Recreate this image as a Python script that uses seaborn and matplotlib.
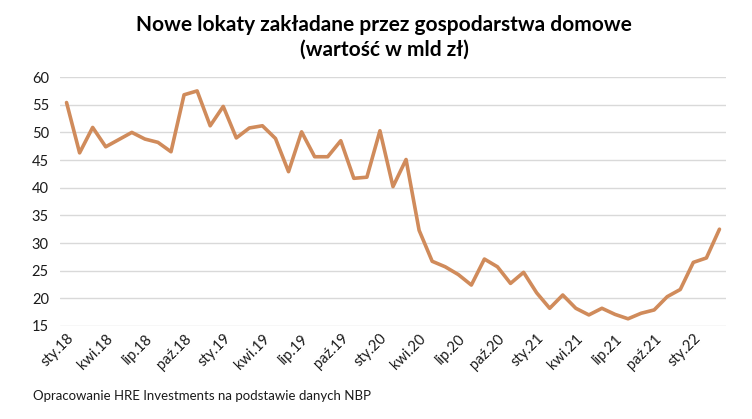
import pandas as pd
import numpy as np
import matplotlib
matplotlib.use("Agg")
import matplotlib.pyplot as plt
import seaborn as sns

# Monthly new household deposits (bn PLN), Jan 2018 - Mar 2022
values = [55.4, 46.3, 50.9, 47.4, 48.7, 50.0, 48.8, 48.2, 46.5, 56.8,
          57.5, 51.2, 54.7, 49.0, 50.8, 51.2, 48.9, 42.9, 50.1, 45.6,
          45.6, 48.5, 41.7, 41.9, 50.3, 40.2, 45.1, 32.3, 26.7, 25.7,
          24.3, 22.4, 27.1, 25.7, 22.7, 24.7, 21.0, 18.2, 20.6, 18.2,
          17.0, 18.2, 17.1, 16.3, 17.3, 17.9, 20.3, 21.6, 26.5, 27.3,
          32.5]
month_names = ['sty', 'lut', 'mar', 'kwi', 'maj', 'cze',
               'lip', 'sie', 'wrz', 'paź', 'lis', 'gru']
years = [18, 19, 20, 21, 22]
labels = [f"{m}.{y}" for y in years for m in month_names][:len(values)]

df = pd.DataFrame({'idx': np.arange(len(values)), 'value': values, 'label': labels})

sns.set_theme(style="whitegrid")
plt.rcParams['font.family'] = ['Lato', 'DejaVu Sans']

fig = plt.figure(figsize=(7.52, 4.19), dpi=100)
ax = fig.add_axes([0.0798, 0.222, 0.8856, 0.594])

sns.lineplot(data=df, x='idx', y='value', ax=ax, color='#D08B5B', linewidth=2.6)

ax.set_xlim(-0.5, len(values) - 0.5)
ax.set_ylim(15, 60)
ax.set_yticks(range(15, 61, 5))
ax.set_xticks(df['idx'][::3])
ax.set_xticklabels(df['label'][::3], rotation=45, ha='right', rotation_mode='anchor')
ax.tick_params(axis='both', labelsize=10.5, colors='#1a1a1a', length=0, pad=8)
ax.tick_params(axis='x', pad=4)
ax.set_xlabel('')
ax.set_ylabel('')
ax.grid(axis='x', visible=False)
ax.grid(axis='y', color='#d9d9d9', linewidth=1)
for s in ax.spines.values():
    s.set_visible(False)

fig.text(0.511, 0.965, 'Nowe lokaty zakładane przez gospodarstwa domowe\n(wartość w mld zł)',
         ha='center', va='top', fontsize=15, fontweight='bold', color='black',
         linespacing=1.3)
fig.text(0.044, 0.055, 'Opracowanie HRE Investments na podstawie danych NBP',
         ha='left', va='center', fontsize=9.5, color='#1a1a1a')

fig.savefig('out.png', dpi=100)
